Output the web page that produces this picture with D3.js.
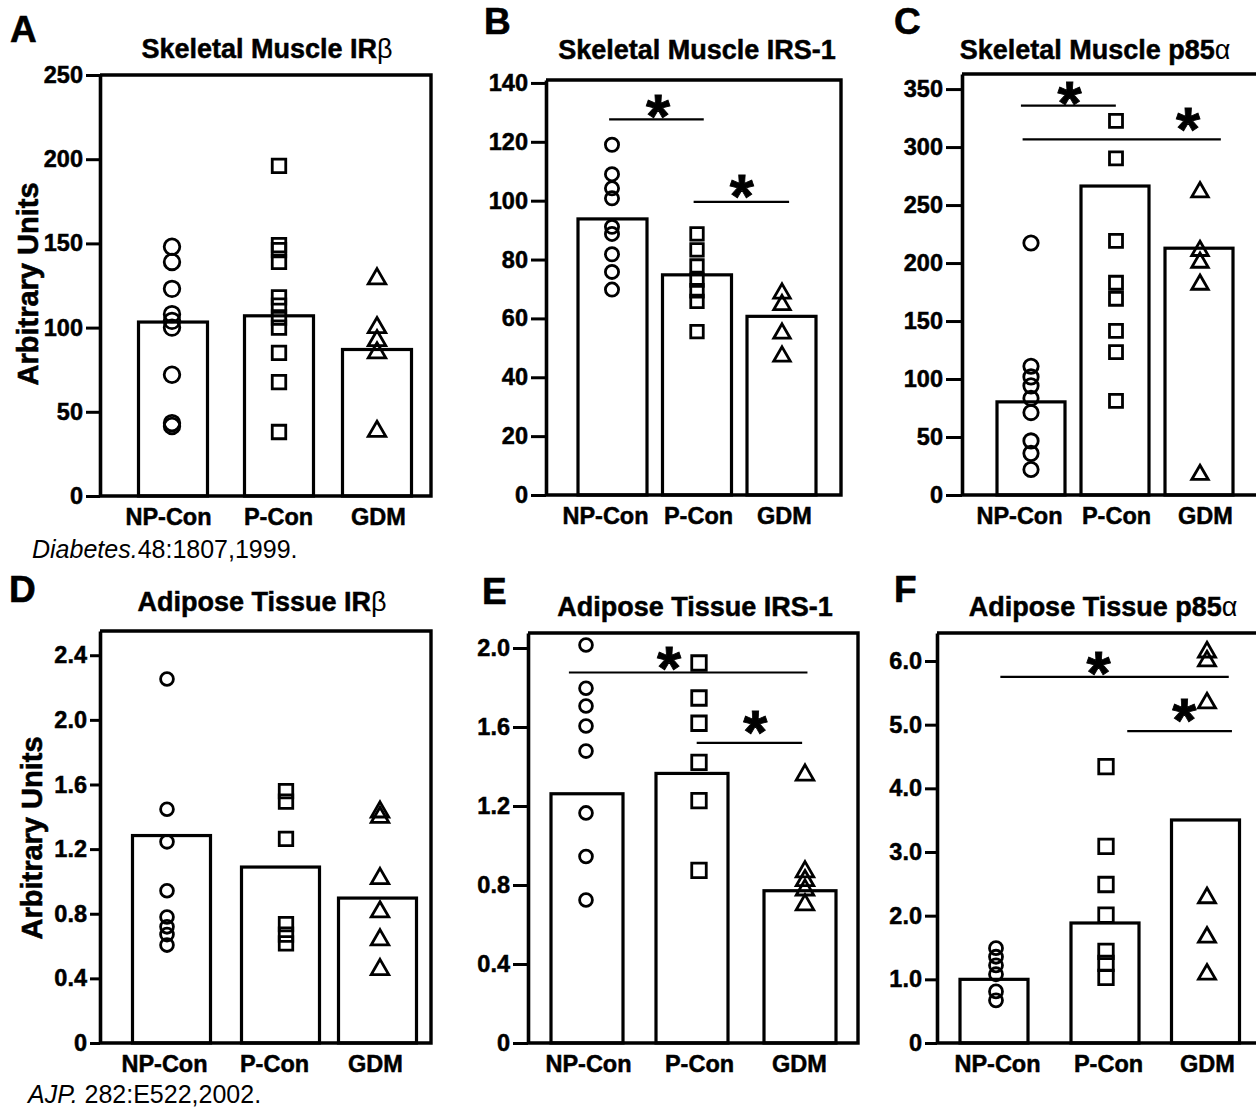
<!DOCTYPE html>
<html>
<head>
<meta charset="utf-8">
<script src="https://cdn.jsdelivr.net/npm/d3@7"></script>
<style>
  body { margin: 0; background: #fff; }
  text { font-family: "Liberation Sans", Arial, Helvetica, sans-serif; }
</style>
</head>
<body>
<svg id="fig" width="1256" height="1109"></svg>
<script>
const categories = ['NP-Con', 'P-Con', 'GDM'];

// A: skeletal muscle IRb
const aBars = [103.3, 107, 87];
const aPoints = [
  [148, 139, 123, 108, 104, 100, 72, 43.3, 41.6],
  [196, 149, 146, 139, 118, 113, 106, 100, 85, 67.6, 38],
  [129, 100, 92.3, 85, 38.4]
];
const aTicks = [0, 50, 100, 150, 200, 250];

// B: skeletal muscle IRS-1
const bBars = [93.8, 74.8, 60.7];
const bPoints = [
  [119, 109, 104.2, 100.8, 91.1, 88.7, 81.8, 75.8, 69.8],
  [88.7, 83.3, 77.8, 73, 69.4, 65.8, 55.5],
  [68.5, 64.6, 54.9, 47.1]
];
const bTicks = [0, 20, 40, 60, 80, 100, 120, 140];
const bSig = [
  {x1: -0.04, x2: 1.08, y: 127.6, sx: 0.54, sy: 132.8},
  {x1: 0.96, x2: 2.09, y: 99.6, sx: 1.53, sy: 105.6}
];

// C: skeletal muscle p85a
const cBars = [80.3, 266.4, 212.8];
const cPoints = [
  [217.3, 111, 101.8, 94.1, 83.4, 71.1, 46.6, 35.9, 22],
  [322.5, 290.3, 219.2, 183, 169.2, 141.6, 123.2, 81.2],
  [261.2, 210.6, 200.5, 181.5, 17.5]
];
const cTicks = [0, 50, 100, 150, 200, 250, 300, 350];
const cSig = [
  {x1: -0.12, x2: 1.01, y: 335.7, sx: 0.46, sy: 348.6},
  {x1: -0.1, x2: 2.26, y: 306.6, sx: 1.87, sy: 325.6}
];

// D: adipose tissue IRb
const dBars = [1.284, 1.089, 0.897];
const dPoints = [
  [2.253, 1.447, 1.245, 0.942, 0.78, 0.719, 0.671, 0.606],
  [1.559, 1.494, 1.263, 0.736, 0.671, 0.617],
  [1.43, 1.397, 1.018, 0.812, 0.639, 0.455]
];
const dTicks = [0, 0.4, 0.8, 1.2, 1.6, 2.0, 2.4];

// E: adipose tissue IRS-1
const eBars = [1.262, 1.365, 0.771];
const ePoints = [
  [2.015, 1.796, 1.706, 1.605, 1.478, 1.165, 0.944, 0.724],
  [1.924, 1.747, 1.619, 1.421, 1.227, 0.874],
  [1.357, 0.867, 0.822, 0.775, 0.7]
];
const eTicks = [0, 0.4, 0.8, 1.2, 1.6, 2.0];
const eSig = [
  {x1: -0.17, x2: 2.07, y: 1.876, sx: 0.77, sy: 1.96},
  {x1: 1.03, x2: 2.02, y: 1.52, sx: 1.58, sy: 1.635}
];

// F: adipose tissue p85a
const fBars = [1.0, 1.885, 3.503];
const fPoints = [
  [1.49, 1.355, 1.22, 1.08, 0.81, 0.67],
  [4.34, 3.09, 2.49, 2.01, 1.44, 1.25, 1.03],
  [6.14, 6.0, 5.34, 2.28, 1.66, 1.08]
];
const fTicks = [0, 1, 2, 3, 4, 5, 6];
const fSig = [
  {x1: 0.06, x2: 2.22, y: 5.75, sx: 0.99, sy: 6.0},
  {x1: 1.26, x2: 2.25, y: 4.9, sx: 1.8, sy: 5.26}
];

const intFmt = d3.format('d');
const decFmt = d => d === 0 ? '0' : d.toFixed(1);

// cx: bar centres, mx: point columns, lx: category label centres
const panels = [
  {letter: 'A', title: ['Skeletal Muscle IR', 'β'], bars: aBars, points: aPoints, ticks: aTicks, sig: [],
   yMax: 250, fmt: intFmt, left: 100, right: 431, top: 75, bottom: 496,
   cx: [173, 279, 377], mx: [172, 279, 377], lx: [168, 278, 378], barW: 69, tickLen: 14,
   r: 7.8, sq: 13.5, tw: 17.5, letterAt: [10, 42], titleAt: [267, 58], yTitleAt: [38, 284]},
  {letter: 'B', title: ['Skeletal Muscle IRS-1', ''], bars: bBars, points: bPoints, ticks: bTicks, sig: bSig,
   yMax: 141, fmt: intFmt, left: 546, right: 841, top: 80, bottom: 495,
   cx: [612.5, 697, 781.5], mx: [612, 697, 782], lx: [605, 698, 784], barW: 69, tickLen: 15,
   r: 6.6, sq: 12.5, tw: 16.5, letterAt: [484, 34], titleAt: [697, 59]},
  {letter: 'C', title: ['Skeletal Muscle p85', 'α'], bars: cBars, points: cPoints, ticks: cTicks, sig: cSig,
   yMax: 363, fmt: intFmt, left: 962, right: 1262, top: 74, bottom: 495,
   cx: [1031, 1115, 1199], mx: [1031, 1116, 1200], lx: [1019, 1116, 1205], barW: 68, tickLen: 16,
   r: 7.2, sq: 13, tw: 16.5, letterAt: [894, 34], titleAt: [1095, 59]},
  {letter: 'D', title: ['Adipose Tissue IR', 'β'], bars: dBars, points: dPoints, ticks: dTicks, sig: [],
   yMax: 2.55, fmt: decFmt, left: 100, right: 431, top: 631, bottom: 1043,
   cx: [171.5, 280.5, 377.5], mx: [167, 286, 380], lx: [164, 274, 375], barW: 78, tickLen: 10,
   r: 6.4, sq: 13.5, tw: 17.5, letterAt: [9, 602], titleAt: [262, 611], yTitleAt: [42, 838]},
  {letter: 'E', title: ['Adipose Tissue IRS-1', ''], bars: eBars, points: ePoints, ticks: eTicks, sig: eSig,
   yMax: 2.076, fmt: decFmt, left: 528, right: 858, top: 633, bottom: 1043,
   cx: [587, 692, 800], mx: [586, 699, 805], lx: [588, 699, 799], barW: 72, tickLen: 15,
   r: 6.4, sq: 14.5, tw: 17.5, letterAt: [482, 604], titleAt: [695, 616]},
  {letter: 'F', title: ['Adipose Tissue p85', 'α'], bars: fBars, points: fPoints, ticks: fTicks, sig: fSig,
   yMax: 6.44, fmt: decFmt, left: 937, right: 1262, top: 633, bottom: 1043,
   cx: [994, 1105, 1205.5], mx: [996, 1106, 1207], lx: [997, 1108, 1207], barW: 68, tickLen: 12,
   r: 6.5, sq: 14.5, tw: 17, letterAt: [894, 602], titleAt: [1103, 616]}
];

const shapes = [d3.symbolCircle, d3.symbolSquare, d3.symbolTriangle];
const svg = d3.select('#fig');

// heavier look for the bold labels, like the scanned figure
function heavy(sel, w) {
  sel.attr('font-weight', 'bold').attr('fill', '#000').attr('stroke', '#000').attr('stroke-width', w);
}

function drawPanel(p) {
  const g = svg.append('g');
  const y = d3.scaleLinear().domain([0, p.yMax]).range([p.bottom, p.top]);
  const xBar = d3.scaleOrdinal(categories, p.cx);
  const xPt = d3.scaleOrdinal(categories, p.mx);
  const xLab = d3.scaleOrdinal(categories, p.lx);
  const xIdx = d3.scaleLinear().domain([0, 2]).range([p.cx[0], p.cx[2]]);

  // bars
  g.append('g').selectAll('rect')
    .data(p.bars.map((v, i) => ({c: categories[i], v})))
    .join('rect')
    .attr('x', d => xBar(d.c) - p.barW / 2)
    .attr('y', d => y(d.v))
    .attr('width', p.barW)
    .attr('height', d => y(0) - y(d.v))
    .attr('fill', '#fff')
    .attr('stroke', '#000')
    .attr('stroke-width', 3.2);

  // frame: top, right, baseline
  g.append('path')
    .attr('d', `M${p.left},${y(p.yMax)}H${p.right}V${y(0)}H${p.left}`)
    .attr('fill', 'none')
    .attr('stroke', '#000')
    .attr('stroke-width', 3.4);

  // y axis
  const ya = g.append('g')
    .attr('transform', `translate(${p.left},0)`)
    .call(d3.axisLeft(y).tickValues(p.ticks).tickFormat(p.fmt)
      .tickSize(p.tickLen).tickSizeOuter(0).tickPadding(3));
  ya.attr('font-family', null).attr('font-size', null);
  ya.select('.domain').attr('stroke-width', 3.6);
  ya.selectAll('.tick line').attr('stroke-width', 3);
  ya.selectAll('.tick text').attr('font-size', 23.5).call(heavy, 0.5);

  // x axis (labels only)
  const xa = g.append('g')
    .attr('transform', `translate(0,${p.bottom})`)
    .call(d3.axisBottom(xLab).tickSize(0).tickPadding(12));
  xa.attr('font-family', null).attr('font-size', null);
  xa.select('.domain').remove();
  xa.selectAll('.tick text').attr('font-size', 23.5).call(heavy, 0.5);

  // individual points
  const pts = p.points.flatMap((arr, i) => arr.map(v => ({c: categories[i], v, i})));
  const sizeOf = i => i === 0 ? Math.PI * p.r * p.r : i === 1 ? p.sq * p.sq : Math.sqrt(3) / 4 * p.tw * p.tw;
  g.append('g').selectAll('path')
    .data(pts)
    .join('path')
    .attr('d', d => d3.symbol().type(shapes[d.i]).size(sizeOf(d.i))())
    .attr('transform', d => `translate(${xPt(d.c)},${y(d.v)})`)
    .attr('fill', 'none')
    .attr('stroke', '#000')
    .attr('stroke-width', 2.8);

  // significance bars
  g.append('g').selectAll('line')
    .data(p.sig)
    .join('line')
    .attr('x1', d => xIdx(d.x1))
    .attr('x2', d => xIdx(d.x2))
    .attr('y1', d => y(d.y))
    .attr('y2', d => y(d.y))
    .attr('stroke', '#000')
    .attr('stroke-width', 2.2);
  g.append('g').selectAll('text')
    .data(p.sig)
    .join('text')
    .attr('x', d => xIdx(d.sx))
    .attr('y', d => y(d.sy) + 33)
    .attr('text-anchor', 'middle')
    .attr('font-size', 62)
    .call(heavy, 0.8)
    .text('*');

  // panel letter
  g.append('text')
    .attr('x', p.letterAt[0]).attr('y', p.letterAt[1])
    .attr('font-size', 37)
    .call(heavy, 0.6)
    .text(p.letter);

  // title
  const t = g.append('text')
    .attr('x', p.titleAt[0]).attr('y', p.titleAt[1])
    .attr('text-anchor', 'middle')
    .attr('font-size', 27)
    .call(heavy, 0.5);
  t.append('tspan').text(p.title[0]);
  if (p.title[1]) t.append('tspan').attr('font-weight', 'normal').attr('stroke-width', 0).text(p.title[1]);

  if (p.yTitleAt) {
    g.append('text')
      .attr('transform', `translate(${p.yTitleAt[0]},${p.yTitleAt[1]}) rotate(-90)`)
      .attr('text-anchor', 'middle')
      .attr('font-size', 29)
      .call(heavy, 0.6)
      .text('Arbitrary Units');
  }
}

panels.forEach(drawPanel);

// citations
const cite1 = svg.append('text').attr('x', 32).attr('y', 558).attr('font-size', 25);
cite1.append('tspan').attr('font-style', 'italic').text('Diabetes.');
cite1.append('tspan').text('48:1807,1999.');

const cite2 = svg.append('text').attr('x', 28).attr('y', 1103).attr('font-size', 25);
cite2.append('tspan').attr('font-style', 'italic').text('AJP.');
cite2.append('tspan').text(' 282:E522,2002.');
</script>
</body>
</html>
